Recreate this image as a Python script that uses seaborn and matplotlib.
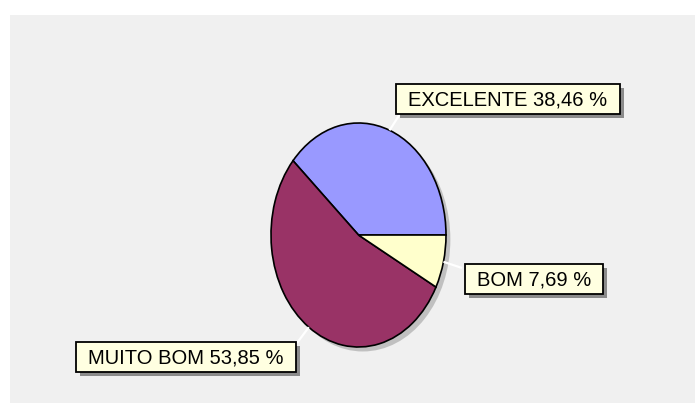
import numpy as np
import matplotlib
matplotlib.use("Agg")
import matplotlib.pyplot as plt
from matplotlib.patches import Rectangle, Ellipse
import seaborn as sns

# Survey results
categories = ["EXCELENTE", "MUITO BOM", "BOM"]
percentages = [38.46, 53.85, 7.69]
slice_colors = ["#9999FF", "#993366", "#FFFFCC"]

# Where each label box sits (pixel centre) and where its leader line meets the box
label_centers = [(508, 99), (186, 357), (534, 279)]
leader_ends = [(400, 114), (297, 343), (462, 268)]

sns.set_theme(style="white")
plt.rcParams["font.family"] = ["Liberation Sans", "DejaVu Sans"]

W, H = 695, 403
fig = plt.figure(figsize=(W / 100, H / 100), dpi=100)
fig.patch.set_facecolor("white")

# grey plot panel
fig.add_artist(Rectangle((10 / W, 0), (W - 10) / W, (H - 15) / H,
                         transform=fig.transFigure, facecolor="#F0F0F0",
                         edgecolor="none", zorder=0))

# overlay axes in pixel coordinates (y downwards) for labels and leaders
ov = fig.add_axes([0, 0, 1, 1], zorder=3)
ov.set_xlim(0, W)
ov.set_ylim(H, 0)
ov.axis("off")
ov.patch.set_alpha(0)

# pie axes: stretched so the pie becomes a tall ellipse
px0, px1, py0, py1 = 271, 446, 123, 347
ax = fig.add_axes([px0 / W, (H - py1) / H, (px1 - px0) / W, (py1 - py0) / H], zorder=2)
ax.patch.set_alpha(0)

# drop shadow under the pie
ax.add_patch(Ellipse((0.05, -0.04), 2, 2, facecolor="#9a9a9a", edgecolor="none",
                     alpha=0.55, zorder=0, clip_on=False))

wedges, _ = ax.pie(percentages, colors=slice_colors, startangle=0, counterclock=True,
                   radius=1, wedgeprops=dict(edgecolor="black", linewidth=1.2))
for w in wedges:
    w.set_clip_on(False)
    w.set_zorder(1)
ax.set_aspect("auto")
ax.set_xlim(-1, 1)
ax.set_ylim(-1, 1)
ax.axis("off")

fig.canvas.draw()
renderer = fig.canvas.get_renderer()

for w, cat, pct, (cx, cy), (ex, ey) in zip(wedges, categories, percentages,
                                            label_centers, leader_ends):
    # leader line from the slice edge to the label box
    mid = np.deg2rad((w.theta1 + w.theta2) / 2)
    dx, dy = ax.transData.transform((np.cos(mid), np.sin(mid)))
    sx, sy = dx, H - dy
    ov.plot([sx, ex], [sy, ey], color="white", lw=1.6, zorder=1,
            solid_capstyle="butt")

    label = f"{cat} {pct:.2f}".replace(".", ",") + " %"
    t = ov.text(cx, cy + 1, label, ha="center", va="center", fontsize=14.5,
                color="black", zorder=5)
    bb = t.get_window_extent(renderer)
    bw = bb.width + 24
    bh = 30
    # box shadow, then the box itself
    ov.add_patch(Rectangle((cx - bw / 2 + 4, cy - bh / 2 + 4), bw, bh,
                           facecolor="#6a6a6a", edgecolor="none", alpha=0.75, zorder=3))
    ov.add_patch(Rectangle((cx - bw / 2, cy - bh / 2), bw, bh,
                           facecolor="#FFFFE1", edgecolor="black", lw=1.3, zorder=4))

fig.savefig("out.png", dpi=100)
